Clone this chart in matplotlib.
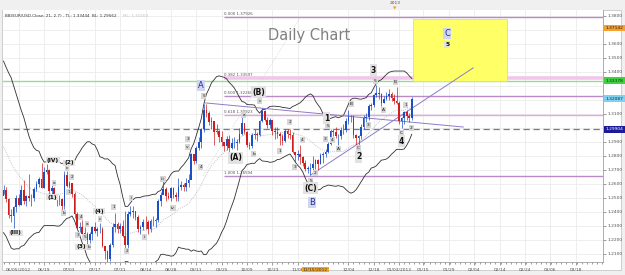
import numpy as np
import pandas as pd
import matplotlib.pyplot as plt
import matplotlib.transforms as mtransforms
from matplotlib.patches import Rectangle

# EUR/USD daily, 2012-05-28 .. 2013-01-10 (one trading day per index)
# closes of the 20 days before the first visible candle (feed the bands only)
pre_closes = [1.3240, 1.3235, 1.3160, 1.3150, 1.3085, 1.3045, 1.3000, 1.2945, 1.2955, 1.2920,
              1.2833, 1.2780, 1.2710, 1.2670, 1.2780, 1.2780, 1.2700, 1.2580, 1.2530, 1.2517]

closes = [1.2560, 1.2495, 1.2380, 1.2370, 1.2433, 1.2500, 1.2452, 1.2560, 1.2477, 1.2515,  # 05/28
          1.2497, 1.2503, 1.2566, 1.2601, 1.2637, 1.2574, 1.2686, 1.2702, 1.2553, 1.2571,  # 06/11
          1.2505, 1.2492, 1.2496, 1.2440, 1.2665, 1.2588, 1.2604, 1.2525, 1.2386, 1.2288,  # 06/25
          1.2293, 1.2245, 1.2245, 1.2200, 1.2245, 1.2290, 1.2265, 1.2276, 1.2277, 1.2157,  # 07/09
          1.2118, 1.2065, 1.2162, 1.2290, 1.2316, 1.2280, 1.2303, 1.2228, 1.2166, 1.2389,  # 07/23
          1.2400, 1.2406, 1.2366, 1.2278, 1.2290, 1.2330, 1.2327, 1.2280, 1.2333, 1.2335,  # 08/06
          1.2342, 1.2480, 1.2518, 1.2564, 1.2515, 1.2500, 1.2568, 1.2520, 1.2510, 1.2576,  # 08/20
          1.2590, 1.2575, 1.2610, 1.2630, 1.2816, 1.2766, 1.2854, 1.2900, 1.2990, 1.3130,  # 09/03
          1.3110, 1.3046, 1.3048, 1.2970, 1.2980, 1.2935, 1.2900, 1.2870, 1.2920, 1.2860,  # 09/17
          1.2890, 1.2890, 1.2902, 1.2955, 1.3036, 1.2970, 1.2875, 1.2872, 1.2950, 1.2954,  # 10/01
          1.2950, 1.3047, 1.3120, 1.3060, 1.3022, 1.3060, 1.2976, 1.2970, 1.2960, 1.2940,  # 10/15
          1.2910, 1.2975, 1.2957, 1.2950, 1.2830, 1.2805, 1.2812, 1.2795, 1.2750, 1.2710,  # 10/29
          1.2710, 1.2712, 1.2740, 1.2770, 1.2745, 1.2807, 1.2815, 1.2825, 1.2885, 1.2975,  # 11/12
          1.2970, 1.2940, 1.2940, 1.2985, 1.2985, 1.3050, 1.3080, 1.3075, 1.2950, 1.2930,  # 11/26
          1.2940, 1.3005, 1.3070, 1.3080, 1.3160, 1.3165, 1.3235, 1.3250, 1.3240, 1.3180,  # 12/10
          1.3210, 1.3225, 1.3240, 1.3215, 1.3190, 1.3180, 1.3050, 1.3070, 1.3115, 1.3085,  # 12/24
          1.3070, 1.3209]                                                                   # 01/09

highs = [1.2590, 1.2580, 1.2500, 1.2420, 1.2440, 1.2520, 1.2530, 1.2590, 1.2625, 1.2520,
         1.2670, 1.2530, 1.2580, 1.2620, 1.2650, 1.2748, 1.2720, 1.2745, 1.2710, 1.2590,
         1.2580, 1.2520, 1.2520, 1.2500, 1.2693, 1.2690, 1.2620, 1.2610, 1.2540, 1.2400,
         1.2330, 1.2340, 1.2290, 1.2260, 1.2260, 1.2300, 1.2330, 1.2290, 1.2320, 1.2290,
         1.2160, 1.2130, 1.2175, 1.2320, 1.2390, 1.2330, 1.2320, 1.2340, 1.2405, 1.2405,
         1.2443, 1.2440, 1.2410, 1.2380, 1.2310, 1.2350, 1.2370, 1.2340, 1.2350, 1.2370,
         1.2360, 1.2490, 1.2540, 1.2624, 1.2580, 1.2540, 1.2580, 1.2580, 1.2540, 1.2640,
         1.2620, 1.2610, 1.2640, 1.2670, 1.2820, 1.2815, 1.2870, 1.2935, 1.3000, 1.3170,
         1.3172, 1.3120, 1.3080, 1.3050, 1.3030, 1.2985, 1.2980, 1.2900, 1.2940, 1.2950,
         1.2930, 1.2935, 1.2920, 1.3000, 1.3076, 1.3020, 1.2980, 1.2900, 1.2965, 1.2990,
         1.2970, 1.3060, 1.3140, 1.3130, 1.3080, 1.3070, 1.3060, 1.3010, 1.3010, 1.2970,
         1.2960, 1.2990, 1.2990, 1.2990, 1.2970, 1.2830, 1.2840, 1.2880, 1.2800, 1.2770,
         1.2730, 1.2750, 1.2800, 1.2780, 1.2780, 1.2820, 1.2830, 1.2850, 1.2900, 1.2990,
         1.2990, 1.3010, 1.2960, 1.3010, 1.3030, 1.3070, 1.3127, 1.3090, 1.3090, 1.2960,
         1.2950, 1.3030, 1.3090, 1.3110, 1.3170, 1.3180, 1.3240, 1.3308, 1.3290, 1.3250,
         1.3230, 1.3260, 1.3280, 1.3260, 1.3240, 1.3293, 1.3190, 1.3080, 1.3120, 1.3130,
         1.3110, 1.3220]

lows = [1.2530, 1.2470, 1.2360, 1.2330, 1.2288, 1.2400, 1.2440, 1.2450, 1.2460, 1.2440,
        1.2480, 1.2440, 1.2480, 1.2550, 1.2580, 1.2570, 1.2570, 1.2670, 1.2530, 1.2520,
        1.2490, 1.2440, 1.2450, 1.2405, 1.2420, 1.2580, 1.2570, 1.2510, 1.2360, 1.2280,
        1.2260, 1.2240, 1.2200, 1.2160, 1.2175, 1.2200, 1.2250, 1.2230, 1.2250, 1.2150,
        1.2066, 1.2043, 1.2050, 1.2150, 1.2260, 1.2250, 1.2250, 1.2220, 1.2133, 1.2140,
        1.2370, 1.2360, 1.2340, 1.2260, 1.2240, 1.2270, 1.2280, 1.2240, 1.2260, 1.2300,
        1.2290, 1.2330, 1.2440, 1.2530, 1.2480, 1.2490, 1.2480, 1.2500, 1.2480, 1.2480,
        1.2560, 1.2550, 1.2550, 1.2580, 1.2640, 1.2740, 1.2750, 1.2840, 1.2860, 1.2970,
        1.3080, 1.3020, 1.2990, 1.2880, 1.2960, 1.2900, 1.2870, 1.2835, 1.2840, 1.2802,
        1.2850, 1.2860, 1.2840, 1.2890, 1.2950, 1.2960, 1.2866, 1.2850, 1.2860, 1.2920,
        1.2910, 1.2940, 1.3040, 1.3050, 1.3000, 1.3000, 1.2950, 1.2920, 1.2930, 1.2880,
        1.2880, 1.2900, 1.2930, 1.2920, 1.2820, 1.2760, 1.2770, 1.2740, 1.2730, 1.2690,
        1.2680, 1.2661, 1.2700, 1.2710, 1.2700, 1.2740, 1.2750, 1.2790, 1.2820, 1.2880,
        1.2940, 1.2930, 1.2880, 1.2920, 1.2960, 1.2970, 1.3030, 1.3040, 1.2930, 1.2877,
        1.2880, 1.2920, 1.2990, 1.3040, 1.3060, 1.3130, 1.3150, 1.3220, 1.3210, 1.3160,
        1.3180, 1.3200, 1.3200, 1.3190, 1.3170, 1.3170, 1.3030, 1.2998, 1.3030, 1.3060,
        1.3040, 1.3060]

# date labels: (candle index, text); the ones past the last candle are future dates
date_ticks = [(6, '06/05/2012'), (16, '06/19'), (26, '07/03'), (36, '07/17'), (46, '07/31'),
              (56, '08/14'), (66, '08/28'), (76, '09/11'), (86, '09/25'), (96, '10/09'),
              (106, '10/23'), (116, '11/06'), (136, '12/04'), (146, '12/18'),
              (156, '01/03/2013'), (165.6, '01/15'), (175.8, '01/29'), (185.6, '02/04'),
              (195.9, '02/14'), (205.7, '02/24'), (215.6, '03/06'), (225.8, '03/18')]
cursor_tick = (123, '11/15/2012')

price_ticks = [1.21, 1.22, 1.23, 1.24, 1.25, 1.26, 1.27, 1.28, 1.29, 1.31,
               1.34, 1.35, 1.36, 1.38]

fib_levels = [('0.000', 1.37926), ('0.382', 1.33597), ('0.500', 1.32260),
              ('0.618', 1.30923), ('1.000', 1.26594)]
green_level = 1.33378
dash_level = 1.29904
last_price = 1.32087
target_price = 1.37142

bb_period = 21
bb_width = 2.7

# ---------------------------------------------------------------
closes_all = pd.Series(pre_closes + closes)
x_all = np.arange(-len(pre_closes), len(closes))
mid = closes_all.rolling(bb_period).mean()
sd = closes_all.rolling(bb_period).std(ddof=0)
upper = mid + bb_width * sd
lower = mid - bb_width * sd

opens = [pre_closes[-1]] + closes[:-1]
x = np.arange(len(closes))

fig = plt.figure(figsize=(6.25, 2.75), dpi=100)
fig.patch.set_facecolor('#f0f0f0')
fig.add_artist(Rectangle((0.003, 0.018), 0.99, 0.945, transform=fig.transFigure,
                         fc='white', ec='#c8c8c8', lw=0.6, zorder=-5))
ax = fig.add_axes([3 / 625, 13 / 275, 600 / 625, 252 / 275])
ax.set_facecolor('white')

ax.set_xlim(-0.2, 236.4)
ax.set_ylim(1.38 - 246 / 1400, 1.38 + 6 / 1400)

grid_c = '#ebebeb'
for p in np.arange(1.21, 1.385, 0.01):
    ax.axhline(p, color=grid_c, lw=0.6, zorder=0)
for t, _ in date_ticks:
    ax.axvline(t, color=grid_c, lw=0.6, zorder=0)

# horizontal levels
ax.axhline(green_level, color='#8fe08f', lw=1.0, zorder=1)
ax.axhline(dash_level, color='#7a7a8a', lw=0.9, ls=(0, (5, 3)), zorder=1)
x_fib0 = 86.8
for name, lvl in fib_levels:
    if name == '0.382':
        ax.hlines(lvl, x_fib0, 240, color='#f2c6ea', lw=2.6, zorder=1)
    elif name == '0.618':
        ax.hlines(lvl, x_fib0, 240, color='#e0a8dc', lw=1.0, zorder=1)
    else:
        ax.hlines(lvl, x_fib0, 240, color='#b98ac8', lw=1.0, zorder=1)
    ax.text(x_fib0, lvl + 0.0008, f'{name} {lvl:.5f}', fontsize=2.8, color='#555555',
            va='bottom', ha='left', zorder=6)

# fibonacci diagonal
ax.plot([78.6, 117.1], [1.26594, 1.37926], color='#c8c8c8', lw=0.5, ls=':', zorder=1)

# target box
ax.add_patch(Rectangle((161.6, green_level), 37.0, 1.3779 - green_level,
                       fc='#ffff66', ec='#e8e060', lw=0.6, zorder=2))

# bollinger bands
ax.plot(x_all, upper, color='#303030', lw=0.6, zorder=3)
ax.plot(x_all, lower, color='#303030', lw=0.6, zorder=3)
ax.plot(x_all, mid, color='#b0b0b0', lw=0.6, ls=(0, (1, 1.5)), zorder=3)

# trend lines
ax.plot([79.7, 181.3], [1.3179, 1.3007], color='#8c7cc8', lw=0.7, zorder=3)
ax.plot([121.1, 185.2], [1.2664, 1.3429], color='#8c7cc8', lw=0.7, zorder=3)

# candles
up_c, dn_c = '#1c4fc4', '#d01c1c'
cols = [up_c if c >= o else dn_c for o, c in zip(opens, closes)]
ax.vlines(x, lows, highs, colors=cols, lw=0.5, zorder=4)
body_lo = np.minimum(opens, closes)
body_h = np.maximum(np.abs(np.array(closes) - np.array(opens)), 0.0003)
ax.bar(x, body_h, bottom=body_lo, width=0.66, color=cols, lw=0, zorder=4)

# wave labels
small = [('c', 25.0, 1.2714), ('2', 27.0, 1.2650), ('1', 25.8, 1.2543), ('a', 19.9, 1.2607),
         ('b', 23.8, 1.2393), ('4', 30.5, 1.2364), ('a', 32.9, 1.2314), ('3', 29.3, 1.2236),
         ('5', 32.1, 1.2221), ('b', 33.7, 1.2150), ('c', 38.0, 1.2350), ('1', 43.5, 1.2436),
         ('2', 48.6, 1.2121), ('i', 50.2, 1.2500), ('ii', 55.7, 1.2221), ('iii', 62.8, 1.2636),
         ('iv', 66.7, 1.2429), ('3', 72.6, 1.2921), ('v', 72.6, 1.2864), ('4', 77.8, 1.2721),
         ('5', 78.9, 1.3229), ('a', 94.7, 1.3093), ('b', 98.6, 1.2814), ('c', 101.0, 1.3193),
         ('1', 108.9, 1.2836), ('2', 112.8, 1.3043), ('3', 114.8, 1.2721), ('4', 117.9, 1.2914),
         ('5', 121.1, 1.2621), ('2', 123.0, 1.2679), ('3', 127.0, 1.2921), ('5', 127.8, 1.3014),
         ('4', 129.7, 1.2914), ('A', 132.1, 1.2850), ('B', 137.2, 1.3171), ('C', 140.0, 1.2857),
         ('3', 143.9, 1.3021), ('5', 146.7, 1.3336), ('A', 149.8, 1.3129), ('B', 154.5, 1.3329),
         ('1', 158.5, 1.3164), ('C', 156.9, 1.2964), ('2', 160.8, 1.3000)]
for s, xi, p in small:
    ax.text(xi, p, s, fontsize=3.2, ha='center', va='center', color='#202020', zorder=6,
            bbox=dict(boxstyle='square,pad=0.25', fc='#d6d6d6', ec='none'))

bold = [('(III)', 4.9, 1.2250), ('(IV)', 19.5, 1.2771), ('(1)', 19.1, 1.2507), ('(2)', 25.8, 1.2750),
        ('(3)', 30.5, 1.2150), ('(4)', 37.6, 1.2407), ('(A)', 91.5, 1.2786), ('(B)', 100.6, 1.3257),
        ('(C)', 121.1, 1.2571), ('1', 127.4, 1.3071), ('2', 140.0, 1.2793), ('3', 145.9, 1.3414),
        ('4', 156.9, 1.2907), ('5', 175.0, 1.3595)]
for s, xi, p in bold:
    big = s in ('(A)', '(B)', '(C)', '1', '2', '3', '4')
    ax.text(xi, p, s, fontsize=5.5 if big else 4.2, fontweight='bold', ha='center', va='center',
            color='#111111', zorder=6,
            bbox=dict(boxstyle='square,pad=0.15', fc='#e2e2e2', ec='none'))

for s, xi, p in [('A', 77.8, 1.3307), ('B', 121.5, 1.2471), ('C', 175.0, 1.3678)]:
    ax.text(xi, p, s, fontsize=6.0, ha='center', va='center', color='#2030a0', zorder=6,
            bbox=dict(boxstyle='square,pad=0.12', fc='#cfd6ee', ec='none'))

ax.text(0.51, 0.9, 'Daily Chart', transform=ax.transAxes, fontsize=10.5, color='#808080',
        ha='center', va='center', zorder=6)
ax.text(0.003, 0.985, 'BB(EUR/USD.Close, 21, 2.7) - TL: 1.33444  BL: 1.29562',
        transform=ax.transAxes, fontsize=3.0, color='#333333', ha='left', va='top', zorder=6)
ax.text(0.20, 0.985, 'ML: 1.31503', transform=ax.transAxes, fontsize=3.0, color='#c0c0c0',
        ha='left', va='top', zorder=6)

# axes / ticks
for sp in ['top', 'left']:
    ax.spines[sp].set_visible(False)
ax.spines['right'].set_color('#a0a0a0')
ax.spines['bottom'].set_color('#a0a0a0')
ax.spines['right'].set_linewidth(0.6)
ax.spines['bottom'].set_linewidth(0.6)
ax.yaxis.tick_right()
ax.set_yticks(price_ticks)
ax.set_yticklabels([f'{p:.4f}' for p in price_ticks])
ax.tick_params(axis='y', labelsize=3.2, length=2, width=0.4, pad=1.5, colors='#505050')
ax.set_xticks([t for t, _ in date_ticks])
ax.set_xticklabels([s for _, s in date_ticks])
ax.set_xticks(np.arange(0, 237, 2), minor=True)
ax.tick_params(axis='x', which='both', labelsize=3.2, length=2, width=0.4, pad=2, colors='#505050')
ax.tick_params(axis='x', which='minor', length=1.2)

trans = mtransforms.blended_transform_factory(ax.transData, ax.transAxes)
ax.text(cursor_tick[0], -0.022, cursor_tick[1], transform=trans, fontsize=3.2, ha='center',
        va='top', color='#303030', zorder=7, clip_on=False,
        bbox=dict(boxstyle='square,pad=0.2', fc='#f5a623', ec='none'))

rtrans = mtransforms.blended_transform_factory(ax.transAxes, ax.transData)
for p, fc, tc in [(target_price, '#f5a030', '#202020'), (green_level, '#40d040', '#103010'),
                  (last_price, '#80d0f0', '#103040'), (dash_level, '#1a1a9a', 'white')]:
    ax.text(1.004, p, f'{p:.5f}', transform=rtrans, fontsize=3.2, ha='left', va='center',
            color=tc, zorder=7, clip_on=False,
            bbox=dict(boxstyle='square,pad=0.3', fc=fc, ec='none'))

# top timeline strip
fig.text(395 / 625, 1 - 3 / 275, '2013', fontsize=3.2, color='#505050', ha='center', va='center')
fig.text(395 / 625, 1 - 8 / 275, '\u25bc', fontsize=3.2, color='#f0a020', ha='center', va='center')

fig.savefig('out.png', dpi=100)
